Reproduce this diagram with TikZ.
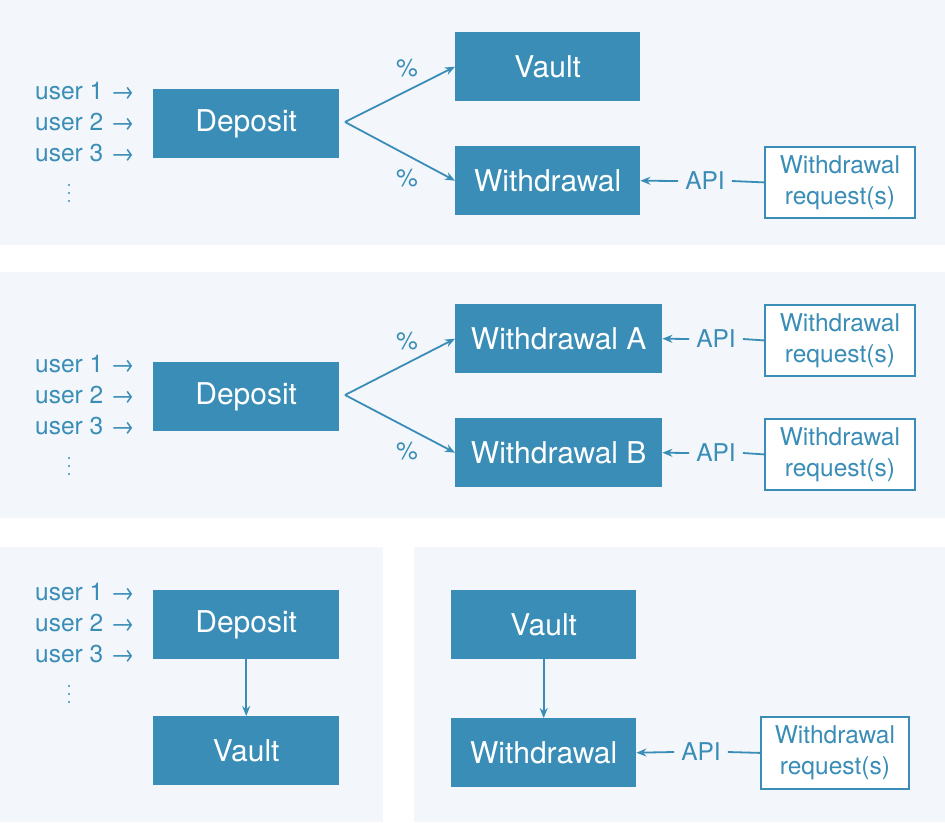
\documentclass[tikz,border=0pt]{standalone}
\usepackage{fontspec}
\setmainfont{TeX Gyre Heros}
\usetikzlibrary{arrows.meta}
\definecolor{bg}{HTML}{F3F7FB}
\definecolor{bx}{HTML}{3A8DB6}
\begin{document}
\begin{tikzpicture}[x=1pt,y=-1pt,
 box/.style={fill=bx,draw=none,text=white,font=\fontsize{30}{30}\selectfont,anchor=north west,inner sep=0,minimum height=69pt},
 req/.style={draw=bx,line width=1.8pt,fill=white,text=bx,font=\fontsize{24.5}{31}\selectfont,align=center,inner sep=0,minimum width=150pt,minimum height=71pt,anchor=north west},
 lab/.style={text=bx,font=\fontsize{24.5}{31}\selectfont,inner sep=0pt},
 api/.style={lab,inner xsep=7pt},
 usr/.style={text=bx,font=\fontsize{24.5}{31}\selectfont,align=left,anchor=north west,inner sep=0},
 dot/.style={fill=bx,draw=none,circle,inner sep=0,minimum size=2.4pt},
 arr/.style={draw=bx,line width=1.8pt,-{Stealth[length=10pt,width=8pt]}},
 ln/.style={draw=bx,line width=1.8pt}]
\fill[white] (0,0) rectangle (945,822);
\fill[bg] (0,0) rectangle (945,245);
\fill[bg] (0,272) rectangle (945,518);
\fill[bg] (0,547) rectangle (383,822);
\fill[bg] (414,547) rectangle (945,822);
% panel 1
\node[usr] (u1) at (35,82) {user 1 →\\user 2 →\\user 3 →};
\node[dot] (d1a) at (69,185) {}; \node[dot] (d1b) at (69,193) {}; \node[dot] (d1c) at (69,201) {};
\node[box,minimum width=186pt] (dep1) at (153,89) {Deposit};
\node[box,minimum width=185pt] (v1) at (455,32) {Vault};
\node[box,minimum width=185pt] (w1) at (455,146) {Withdrawal};
\node[req] (r1) at (764,146) {Withdrawal\\request(s)};
\node[api] (a1) at (705,181) {API};
\node[lab] (p1) at (407,68) {\%};
\node[lab] (p2) at (407,178) {\%};
\coordinate (s1) at (345,122);
\draw[arr] (s1) -- (v1.west);
\draw[arr] (s1) -- (w1.west);
\draw[ln] (r1.west) -- (a1.east);
\draw[arr] (a1.west) -- (w1.east);
% panel 2
\node[usr] (u2) at (35,355) {user 1 →\\user 2 →\\user 3 →};
\node[dot] (d2a) at (69,458) {}; \node[dot] (d2b) at (69,466) {}; \node[dot] (d2c) at (69,474) {};
\node[box,minimum width=186pt] (dep2) at (153,362) {Deposit};
\node[box,minimum width=207pt] (wa) at (455,304) {Withdrawal A};
\node[box,minimum width=207pt] (wb) at (455,418) {Withdrawal B};
\node[req] (r2) at (764,304) {Withdrawal\\request(s)};
\node[req] (r3) at (764,418) {Withdrawal\\request(s)};
\node[api] (a2) at (716,339) {API};
\node[api] (a3) at (716,453) {API};
\node[lab] (p3) at (407,341) {\%};
\node[lab] (p4) at (407,451) {\%};
\coordinate (s2) at (345,395);
\draw[arr] (s2) -- (wa.west);
\draw[arr] (s2) -- (wb.west);
\draw[ln] (r2.west) -- (a2.east);
\draw[arr] (a2.west) -- (wa.east);
\draw[ln] (r3.west) -- (a3.east);
\draw[arr] (a3.west) -- (wb.east);
% panel 3
\node[usr] (u3) at (35,583) {user 1 →\\user 2 →\\user 3 →};
\node[dot] (d3a) at (69,686) {}; \node[dot] (d3b) at (69,694) {}; \node[dot] (d3c) at (69,702) {};
\node[box,minimum width=186pt] (dep3) at (153,590) {Deposit};
\node[box,minimum width=186pt] (v3) at (153,716) {Vault};
\draw[arr] (dep3.south) -- (v3.north);
\node[box,minimum width=185pt] (v4) at (451,590) {Vault};
\node[box,minimum width=185pt] (w4) at (451,718) {Withdrawal};
\node[req,minimum width=148pt,minimum height=72pt] (r4) at (760,716) {Withdrawal\\request(s)};
\node[api] (a4) at (701,752) {API};
\draw[arr] (v4.south) -- (w4.north);
\draw[ln] (r4.west) -- (a4.east);
\draw[arr] (a4.west) -- (w4.east);
\end{tikzpicture}
\end{document}
